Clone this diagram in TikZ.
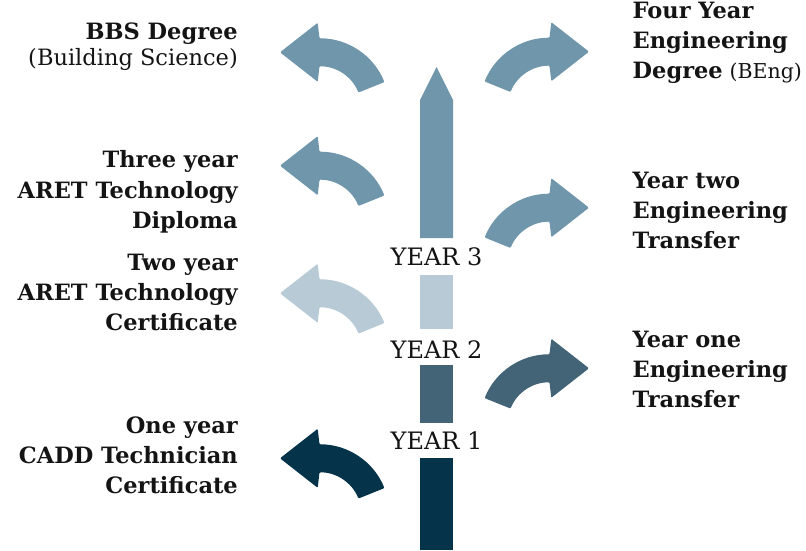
\documentclass[tikz,border=0pt]{standalone}
\usepackage{fontspec}
\setmainfont{DejaVu Serif}
\definecolor{cthree}{HTML}{7096AB}
\definecolor{clight}{HTML}{B7CAD6}
\definecolor{cmid}{HTML}{426476}
\definecolor{cdark}{HTML}{04334A}
\definecolor{ink}{HTML}{141414}
\tikzset{
  lcurve/.pic={
    \fill[pic actions, rounded corners=1pt] (22:70pt) arc[start angle=22,end angle=90,radius=70pt]
      -- (-1.8,85.5) -- (-39.5,56) -- (-1.8,26.5) -- (0,42)
      arc[start angle=90,end angle=22,radius=42pt] -- cycle;
  },
  rcurve/.pic={
    \fill[pic actions, rounded corners=1pt] (158:70pt) arc[start angle=158,end angle=90,radius=70pt]
      -- (1.8,85.5) -- (39.5,56) -- (1.8,26.5) -- (0,42)
      arc[start angle=90,end angle=158,radius=42pt] -- cycle;
  },
  lab/.style={font=\fontsize{22.5}{26}\selectfont\bfseries, inner sep=0pt, text=ink},
  labr/.style={font=\fontsize{22.5}{26}\selectfont, inner sep=0pt, text=ink},
  yr/.style={font=\fontsize{24}{28}\selectfont, inner sep=0pt, text=ink, anchor=base},
}
\begin{document}
\begin{tikzpicture}[x=1pt,y=1pt]
\useasboundingbox (0,0) rectangle (806,550);
% central column
\fill[cthree] (420,312) -- (420,450) -- (436.5,483) -- (453,450) -- (453,312) -- cycle;
\fill[clight] (420,221) rectangle (453,275);
\fill[cmid] (420,127) rectangle (453,185);
\fill[cdark] (420,0) rectangle (453,92);
\node[yr] (y3) at (436.5,284.3) {YEAR 3};
\node[yr] (y2) at (436.5,192) {YEAR 2};
\node[yr] (y1) at (436.5,101) {YEAR 1};
% left curved arrows
\pic[fill=cthree] (a1) at (319.5,441.7) {lcurve};
\pic[fill=cthree] (a2) at (319.5,328.3) {lcurve};
\pic[fill=clight] (a3) at (319.5,200.7) {lcurve};
\pic[fill=cdark] (a4) at (319.5,35.7) {lcurve};
% right curved arrows
\pic[fill=cthree] (b1) at (549.5,442.3) {rcurve};
\pic[fill=cthree] (b2) at (549.5,286.3) {rcurve};
\pic[fill=cmid] (b3) at (549.5,125.7) {rcurve};
% left labels
\node[lab, anchor=base east] (l1a) at (238,510.7) {BBS Degree};
\node[labr, anchor=base east] (l1b) at (238,484) {(Building Science)};
\node[lab, anchor=base east] (l2a) at (238,382) {Three year};
\node[lab, anchor=base east] (l2b) at (238,352) {ARET Technology};
\node[lab, anchor=base east] (l2c) at (238,322) {Diploma};
\node[lab, anchor=base east] (l3a) at (238,280) {Two year};
\node[lab, anchor=base east] (l3b) at (238,250) {ARET Technology};
\node[lab, anchor=base east] (l3c) at (238,220) {Certificate};
\node[lab, anchor=base east] (l4a) at (238,116.7) {One year};
\node[lab, anchor=base east] (l4b) at (238,86.7) {CADD Technician};
\node[lab, anchor=base east] (l4c) at (238,56.7) {Certificate};
% right labels
\node[lab, anchor=base west] (r1a) at (632.5,531) {Four Year};
\node[lab, anchor=base west] (r1b) at (632.5,501) {Engineering};
\node[lab, anchor=base west] (r1c) at (632.5,471) {Degree\hspace{-1pt} {\mdseries\fontsize{20.5}{26}\selectfont(BEng)}};
\node[lab, anchor=base west] (r2a) at (632.5,362) {Year two};
\node[lab, anchor=base west] (r2b) at (632.5,332) {Engineering};
\node[lab, anchor=base west] (r2c) at (632.5,302) {Transfer};
\node[lab, anchor=base west] (r3a) at (632.5,203) {Year one};
\node[lab, anchor=base west] (r3b) at (632.5,173) {Engineering};
\node[lab, anchor=base west] (r3c) at (632.5,143) {Transfer};
\end{tikzpicture}
\end{document}
